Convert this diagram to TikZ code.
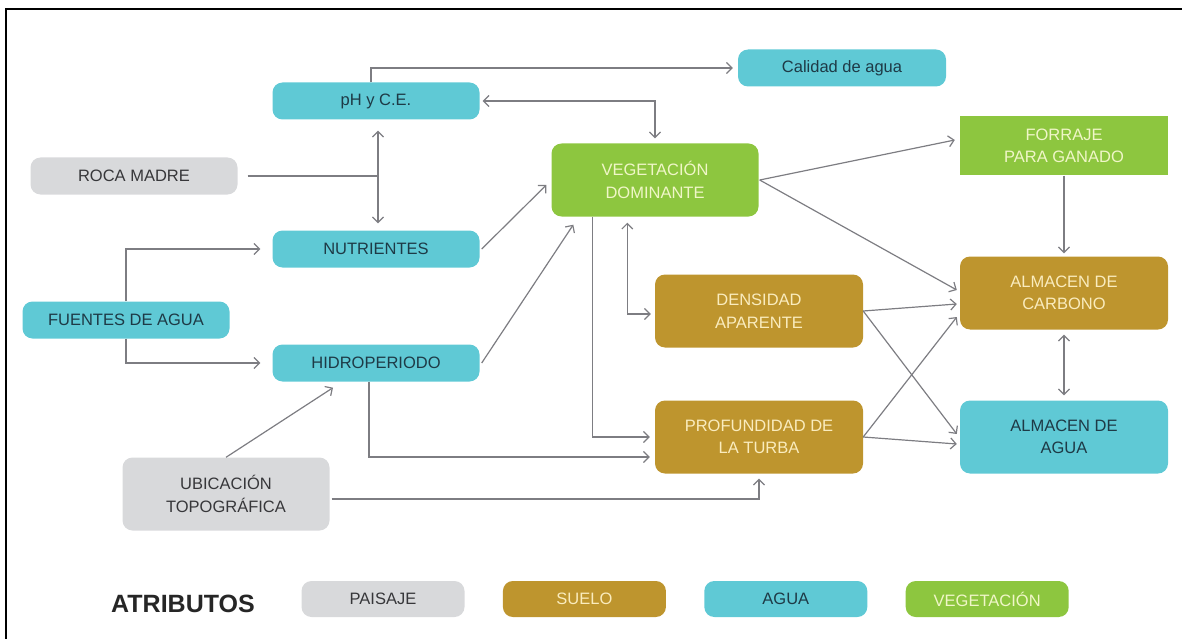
\documentclass[tikz,border=0pt]{standalone}
\usepackage{fontspec}
\setmainfont{Liberation Sans}
\usetikzlibrary{arrows.meta,positioning}
\definecolor{aguacyan}{RGB}{95,201,213}
\definecolor{vegverde}{RGB}{141,198,63}
\definecolor{sueloocre}{RGB}{190,149,46}
\definecolor{paisgris}{RGB}{216,217,219}
\definecolor{txtagua}{RGB}{30,58,70}
\definecolor{txtveg}{RGB}{240,246,200}
\definecolor{txtsuelo}{RGB}{250,236,190}
\definecolor{txtgris}{RGB}{55,55,58}
\definecolor{flecha}{RGB}{125,125,130}

\begin{document}
\begin{tikzpicture}[x=1pt, y=-1pt,
      >={Straight Barb[length=5.5pt,width=11pt]},
      caja/.style={rounded corners=10pt, inner sep=0pt, align=center,
                   minimum width=207pt, minimum height=37pt,
                   font=\fontsize{16.5}{22.5}\selectfont},
      agua/.style={caja, fill=aguacyan, text=txtagua},
      veg/.style={caja, fill=vegverde, text=txtveg},
      suelo/.style={caja, fill=sueloocre, text=txtsuelo},
      paisaje/.style={caja, fill=paisgris, text=txtgris},
      alto/.style={minimum height=73pt},
      leyenda/.style={minimum width=163pt, minimum height=36pt},
      linea/.style={draw=flecha, line width=1.2pt},
      arr/.style={linea, ->}]
    \useasboundingbox (0,0) rectangle (1182,639);
    \draw[line width=2.5pt] (6,639) -- (6,9) -- (1182,9);

    \node[agua] (ph) at (376,101) {pH y C.E.};
    \node[agua, minimum width=208pt] (calidad) at (842,68) {Calidad de agua};
    \node[paisaje] (roca) at (134,176) {ROCA MADRE};
    \node[veg, alto] (vegdom) at (655,180) {VEGETACIÓN\\DOMINANTE};
    \node[veg, sharp corners, minimum height=59pt, minimum width=208pt] (forraje) at (1064,146) {FORRAJE\\PARA GANADO};
    \node[agua] (nutri) at (376,249) {NUTRIENTES};
    \node[agua] (fuentes) at (126,320) {FUENTES DE AGUA};
    \node[agua] (hidro) at (376,363) {HIDROPERIODO};
    \node[suelo, alto, minimum width=208pt] (densidad) at (759,311) {DENSIDAD\\APARENTE};
    \node[suelo, alto, minimum width=208pt] (turba) at (759,437) {PROFUNDIDAD DE\\LA TURBA};
    \node[suelo, alto, minimum width=208pt] (carbono) at (1064,293) {ALMACEN DE\\CARBONO};
    \node[agua, alto, minimum width=208pt] (almagua) at (1064,437) {ALMACEN DE\\AGUA};
    \node[paisaje, alto] (ubic) at (226,494) {UBICACIÓN\\TOPOGRÁFICA};

    \node[font=\fontsize{25}{30}\selectfont\bfseries, text=black!85] (atrib) at (183,604) {ATRIBUTOS};
    \node[paisaje, leyenda] (lpais) at (383,599) {PAISAJE};
    \node[suelo, leyenda, right=38pt of lpais] (lsuelo) {SUELO};
    \node[agua, leyenda, right=38pt of lsuelo] (lagua) {AGUA};
    \node[veg, leyenda, right=38pt of lagua] (lveg) {VEGETACIÓN};

    \draw[arr] ([xshift=-5pt]ph.north) |- ([xshift=-5pt]calidad.west);
    \draw[arr, <->] ([xshift=3pt]ph.east) -| ([yshift=5pt]vegdom.north);
    \draw[arr, <->] ([xshift=2pt,yshift=-11pt]ph.south) -- ([xshift=2pt,yshift=7pt]nutri.north);
    \draw[linea] ([xshift=10pt]roca.east) -- ([xshift=2pt]roca.east -| ph.south);
    \draw[arr] (fuentes.north) |- ([xshift=-12pt]nutri.west);
    \draw[arr] (fuentes.south) |- ([xshift=-12pt]hidro.west);
    \draw[arr] ([xshift=2pt]nutri.east) -- ([xshift=-5pt,yshift=-5pt]vegdom.west);
    \draw[arr] ([xshift=2pt]hidro.east) -- ([xshift=22pt,yshift=-8pt]vegdom.south west);
    \draw[arr] ([xshift=41pt]vegdom.south west) |- ([xshift=-5pt]turba.west);
    \draw[arr, <->] ([xshift=76pt,yshift=-6pt]vegdom.south west) |- ([xshift=-4pt,yshift=-3pt]densidad.west);
    \draw[arr] ([xshift=-7pt]hidro.south) |- ([xshift=-5pt,yshift=-20pt]turba.west);
    \draw[arr] (ubic.north) -- ([xshift=-43pt,yshift=-6pt]hidro.south);
    \draw[arr] ([xshift=2pt,yshift=-5pt]ubic.east) -| ([yshift=-5pt]turba.south);
    \draw[arr] ([xshift=1pt]vegdom.east) -- ([xshift=-5pt,yshift=6pt]forraje.west);
    \draw[arr] ([xshift=1pt]vegdom.east) -- ([xshift=-3pt,yshift=3pt]carbono.west);
    \draw[arr] (densidad.east) -- ([xshift=-3pt,yshift=-11pt]carbono.west);
    \draw[arr] (densidad.east) -- ([xshift=-3pt,yshift=3pt]almagua.west);
    \draw[arr] (turba.east) -- ([xshift=-3pt,yshift=-24pt]carbono.west);
    \draw[arr] (turba.east) -- ([xshift=-3pt,yshift=-7pt]almagua.west);
    \draw[arr] (forraje.south) -- ([yshift=3pt]carbono.north);
    \draw[arr, <->] ([yshift=-5pt]carbono.south) -- ([yshift=5pt]almagua.north);
  \end{tikzpicture}
\end{document}
